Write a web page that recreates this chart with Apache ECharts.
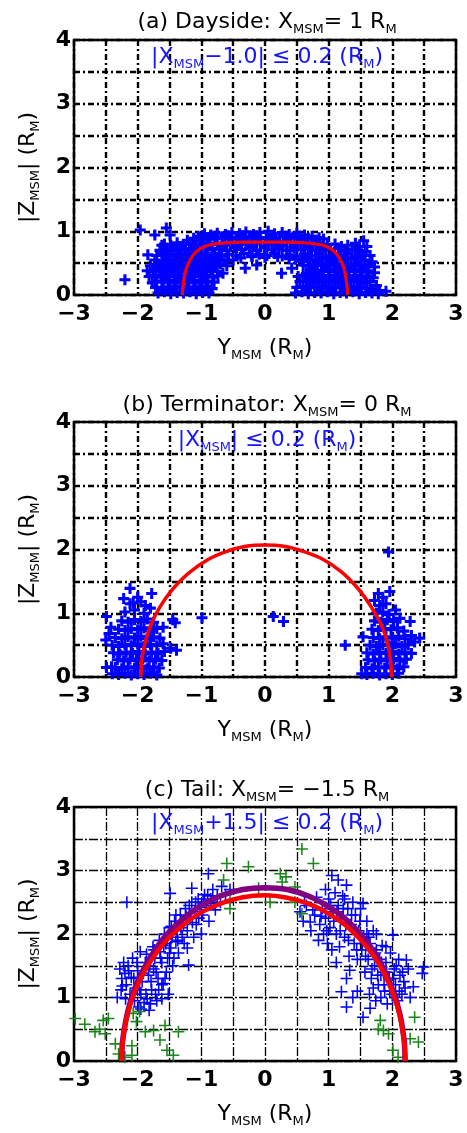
<!DOCTYPE html>
<html>
<head>
<meta charset="utf-8">
<title>MSM cross sections</title>
<script src="https://cdn.jsdelivr.net/npm/echarts@6/dist/echarts.min.js"></script>
<style>
  html, body { margin: 0; padding: 0; background: #fff; }
  #chart { width: 467px; height: 1133px; }
</style>
</head>
<body>
<div id="chart"></div>
<script>
// ---- data: [Y_MSM, |Z_MSM|] in R_M ----
var daysideBlue = [
  [-1.05,0.92],[-0.95,0.96],[-0.85,0.94],[-0.75,0.97],[-0.62,0.95],[-0.52,0.98],[-0.4,0.96],[-0.3,0.99],[-0.18,0.95],[-0.08,0.98],[0.05,1.0],[0.15,0.96],[0.27,0.98],[0.38,0.95],[0.5,0.97],[0.62,0.94],[0.74,0.92],
  [-1.22,0.86],[-1.12,0.89],[-1.0,0.87],[-0.9,0.9],[-0.78,0.88],[-0.67,0.91],[-0.56,0.88],[-0.45,0.9],[-0.33,0.87],[-0.22,0.91],[-0.1,0.88],[0.02,0.9],[0.12,0.87],[0.23,0.91],[0.35,0.88],[0.46,0.9],[0.57,0.87],[0.68,0.89],[0.8,0.86],[0.92,0.88],
  [-0.98,0.93],[-0.8,0.92],[-0.58,0.93],[-0.36,0.92],[-0.13,0.93],[0.1,0.93],[0.32,0.92],[0.55,0.92],[0.85,0.9],
  [-1.58,0.8],[-1.48,0.78],[-1.38,0.82],[-1.28,0.79],[-1.18,0.81],[-1.08,0.78],[-0.97,0.82],[-0.86,0.79],[-0.75,0.81],[-0.63,0.78],[-0.52,0.82],[-0.41,0.79],[-0.3,0.81],[-0.19,0.78],[-0.07,0.82],[0.05,0.79],[0.16,0.81],[0.28,0.78],[0.4,0.82],[0.51,0.79],[0.63,0.81],[0.74,0.78],[0.86,0.82],[0.98,0.79],[1.1,0.8],[1.3,0.78],[1.42,0.81],[1.55,0.85],[1.6,0.76],
  [-1.33,0.76],[-1.12,0.76],[-0.9,0.75],[-0.68,0.76],[-0.45,0.76],[-0.22,0.75],[0.0,0.76],[0.22,0.76],[0.45,0.75],[0.68,0.76],[0.9,0.75],[1.2,0.76],[1.45,0.75],
  [-1.65,0.7],[-1.55,0.73],[-1.45,0.7],[-1.35,0.74],[-1.25,0.71],[-1.15,0.73],[-1.05,0.7],[-0.94,0.74],[-0.83,0.71],[-0.72,0.73],[-0.6,0.7],[-0.48,0.74],[-0.37,0.71],[-0.25,0.73],[-0.13,0.7],[-0.01,0.74],[0.11,0.71],[0.22,0.73],[0.34,0.7],[0.46,0.74],[0.57,0.71],[0.69,0.73],[0.8,0.7],[0.92,0.74],[1.03,0.71],[1.15,0.73],[1.26,0.7],[1.37,0.72],[1.48,0.7],[1.58,0.68],
  [-1.84,0.63],[-1.7,0.62],[-1.6,0.65],[-1.5,0.61],[-1.4,0.64],[-1.3,0.62],[-1.2,0.65],[-1.1,0.61],[-1.0,0.64],[-0.9,0.62],[-0.79,0.65],[-0.68,0.61],[-0.57,0.64],[-0.45,0.62],[-0.33,0.65],[-0.21,0.61],[-0.09,0.64],[0.03,0.62],[0.15,0.65],[0.27,0.61],[0.39,0.63],[0.5,0.61],[0.62,0.64],[0.73,0.62],[0.85,0.65],[0.96,0.61],[1.08,0.64],[1.19,0.62],[1.3,0.65],[1.42,0.61],[1.53,0.63],[1.65,0.62],
  [-1.55,0.58],[-1.35,0.59],[-1.15,0.58],[-0.95,0.59],[-0.75,0.58],[0.65,0.59],[0.85,0.58],[1.05,0.59],[1.25,0.58],[1.45,0.59],
  [-1.73,0.55],[-1.62,0.53],[-1.52,0.56],[-1.42,0.54],[-1.32,0.57],[-1.22,0.53],[-1.12,0.56],[-1.02,0.54],[-0.92,0.57],[-0.82,0.53],[-0.71,0.56],[-0.6,0.54],[-0.5,0.55],[-0.38,0.58],[-0.2,0.6],[0.0,0.59],[0.2,0.6],[0.38,0.57],[0.48,0.56],[0.58,0.53],[0.69,0.56],[0.8,0.54],[0.91,0.57],[1.02,0.53],[1.13,0.56],[1.24,0.54],[1.35,0.57],[1.46,0.53],[1.57,0.55],[1.68,0.52],
  [-1.8,0.46],[-1.7,0.48],[-1.6,0.45],[-1.5,0.49],[-1.4,0.46],[-1.3,0.48],[-1.2,0.45],[-1.1,0.49],[-1.0,0.46],[-0.9,0.48],[-0.8,0.45],[-0.7,0.49],[-0.6,0.46],[0.6,0.47],[0.7,0.45],[0.8,0.49],[0.9,0.46],[1.0,0.48],[1.1,0.45],[1.2,0.49],[1.3,0.46],[1.4,0.48],[1.5,0.45],[1.62,0.47],[1.72,0.44],
  [-1.65,0.42],[-1.45,0.43],[-1.25,0.42],[-1.05,0.43],[-0.85,0.42],[0.75,0.42],[0.95,0.43],[1.15,0.42],[1.35,0.43],[1.55,0.42],
  [-0.31,0.42],[-0.13,0.47],[0.42,0.42],[0.26,0.34],[0.65,0.34],
  [-1.85,0.38],[-1.75,0.36],[-1.65,0.39],[-1.55,0.37],[-1.45,0.4],[-1.35,0.36],[-1.25,0.39],[-1.15,0.37],[-1.05,0.4],[-0.95,0.36],[-0.85,0.39],[-0.75,0.37],[-0.66,0.34],[0.72,0.36],[0.82,0.39],[0.92,0.37],[1.02,0.4],[1.12,0.36],[1.22,0.39],[1.32,0.37],[1.42,0.4],[1.52,0.36],[1.62,0.38],[1.72,0.35],
  [-1.82,0.29],[-1.72,0.31],[-1.62,0.28],[-1.52,0.32],[-1.42,0.29],[-1.32,0.31],[-1.22,0.28],[-1.12,0.32],[-1.02,0.29],[-0.92,0.31],[-0.82,0.28],[-0.74,0.3],[0.52,0.29],[0.6,0.31],[0.7,0.28],[0.8,0.32],[0.9,0.29],[1.0,0.31],[1.1,0.28],[1.2,0.32],[1.3,0.29],[1.4,0.31],[1.5,0.28],[1.6,0.3],[1.7,0.27],
  [-1.57,0.25],[-1.37,0.26],[-1.17,0.25],[-0.97,0.26],[0.7,0.25],[0.9,0.26],[1.1,0.25],[1.3,0.26],[1.5,0.25],
  [-1.77,0.19],[-1.7,0.22],[-1.6,0.2],[-1.5,0.23],[-1.4,0.19],[-1.3,0.22],[-1.2,0.2],[-1.1,0.23],[-1.0,0.19],[-0.9,0.22],[-0.8,0.2],[0.6,0.13],[0.55,0.21],[0.65,0.22],[0.75,0.19],[0.85,0.23],[0.95,0.2],[1.05,0.22],[1.15,0.19],[1.25,0.23],[1.35,0.2],[1.45,0.22],[1.55,0.19],[1.65,0.21],[1.75,0.15],
  [-1.72,0.12],[-1.62,0.1],[-1.52,0.13],[-1.42,0.11],[-1.32,0.14],[-1.22,0.1],[-1.12,0.13],[-1.02,0.11],[-0.92,0.14],[-0.83,0.1],[0.5,0.12],[0.7,0.13],[0.8,0.11],[0.9,0.14],[1.0,0.1],[1.1,0.13],[1.2,0.11],[1.3,0.14],[1.4,0.1],[1.5,0.12],[1.6,0.1],[1.7,0.09],[1.8,0.07],[1.9,0.06],
  [-1.47,0.08],[-1.27,0.08],[-1.07,0.08],[-0.9,0.08],[0.65,0.08],[0.85,0.08],[1.05,0.08],[1.25,0.08],[1.45,0.08],[1.65,0.07],
  [-1.68,0.03],[-1.58,0.05],[-1.48,0.02],[-1.38,0.04],[-1.28,0.03],[-1.18,0.05],[-1.08,0.02],[-0.98,0.04],[-0.88,0.03],[0.48,0.03],[0.58,0.05],[0.68,0.02],[0.78,0.04],[0.88,0.03],[0.98,0.05],[1.08,0.02],[1.18,0.04],[1.28,0.03],[1.38,0.05],[1.48,0.02],[1.58,0.04],[1.68,0.03],[1.78,0.02],
  [-2.2,0.24],[-1.96,1.02],[-1.55,1.05],[-1.73,0.94],[-1.49,0.94],[-1.62,0.78]
];
var daysideFit = [
  [-1.3,0],[-1.28,0.2],[-1.24,0.4],[-1.17,0.56],[-1.08,0.68],[-0.95,0.76],[-0.8,0.8],[-0.6,0.82],[-0.3,0.83],[0,0.83],
  [0.3,0.83],[0.6,0.82],[0.8,0.8],[0.95,0.77],[1.08,0.69],[1.17,0.58],[1.24,0.42],[1.28,0.2],[1.3,0]
];

var termBlue = [
  [-2.4,0.05],[-2.3,0.04],[-2.2,0.06],[-2.1,0.03],[-2.0,0.05],[-1.9,0.04],[-1.8,0.06],[-1.7,0.03],
  [-2.49,0.15],[-2.41,0.16],[-2.35,0.15],[-2.25,0.13],[-2.15,0.16],[-2.05,0.14],[-1.95,0.17],[-1.85,0.13],[-1.75,0.16],[-1.66,0.14],
  [-2.32,0.27],[-2.22,0.25],[-2.12,0.28],[-2.02,0.26],[-1.92,0.29],[-1.82,0.25],[-1.72,0.28],[-1.62,0.26],
  [-2.38,0.38],[-2.28,0.36],[-2.18,0.39],[-2.08,0.37],[-1.98,0.4],[-1.88,0.36],[-1.78,0.39],[-1.68,0.37],[-1.58,0.4],[-1.39,0.42],[-1.48,0.45],
  [-2.5,0.58],[-2.4,0.5],[-2.3,0.48],[-2.2,0.51],[-2.1,0.49],[-2.0,0.52],[-1.9,0.48],[-1.8,0.51],[-1.7,0.49],[-1.6,0.52],
  [-2.45,0.68],[-2.35,0.62],[-2.25,0.6],[-2.15,0.63],[-2.05,0.61],[-1.95,0.64],[-1.85,0.6],[-1.75,0.63],[-1.65,0.61],
  [-2.42,0.78],[-2.3,0.75],[-2.2,0.73],[-2.1,0.76],[-2.0,0.74],[-1.9,0.77],[-1.8,0.73],[-1.7,0.76],[-1.6,0.78],
  [-2.49,0.95],[-2.25,0.88],[-2.15,0.86],[-2.05,0.9],[-1.95,0.87],[-1.85,0.91],[-1.75,0.86],[-1.45,0.9],[-1.41,0.85],
  [-2.2,1.02],[-2.05,1.05],[-1.9,1.0],[-1.8,1.08],[-2.12,1.15],[-1.95,1.18],[-2.07,1.16],[-2.22,1.23],[-1.78,1.31],[-2.12,1.39],[-1.88,1.12],[-2.0,1.25],
  [-0.99,0.93],[0.13,0.95],[0.29,0.87],[1.26,0.5],
  [1.52,0.05],[1.6,0.04],[1.7,0.06],[1.8,0.03],[1.9,0.05],[2.0,0.04],[2.1,0.06],
  [1.58,0.15],[1.68,0.13],[1.78,0.16],[1.88,0.14],[1.98,0.17],[2.08,0.13],[2.18,0.16],
  [1.62,0.27],[1.72,0.25],[1.82,0.28],[1.92,0.26],[2.02,0.29],[2.12,0.25],[2.22,0.28],
  [1.6,0.38],[1.7,0.36],[1.8,0.39],[1.9,0.37],[2.0,0.4],[2.1,0.36],[2.2,0.39],[2.3,0.37],
  [1.65,0.5],[1.75,0.48],[1.85,0.51],[1.95,0.49],[2.05,0.52],[2.15,0.48],[2.25,0.51],[2.35,0.55],
  [1.54,0.63],[1.7,0.62],[1.8,0.6],[1.9,0.63],[2.0,0.61],[2.1,0.64],[2.2,0.6],[2.3,0.65],[2.43,0.61],
  [1.68,0.75],[1.78,0.73],[1.88,0.76],[1.98,0.74],[2.08,0.77],[2.18,0.72],
  [1.72,0.88],[1.82,0.86],[1.92,0.9],[2.02,0.87],[2.12,0.92],[2.28,0.87],
  [1.75,1.0],[1.85,1.02],[1.95,0.98],[2.05,1.05],[1.8,1.12],[1.9,1.15],[1.72,1.2],[1.85,1.25],[1.78,1.31],[1.96,1.34],[1.94,1.96]
];
var termFit = [
  [-1.95,0],[-1.93,0.3],[-1.88,0.55],[-1.8,0.8],[-1.65,1.1],[-1.45,1.38],[-1.2,1.63],[-0.9,1.84],[-0.6,1.97],[-0.3,2.05],[0,2.07],
  [0.3,2.05],[0.6,1.97],[0.9,1.85],[1.2,1.65],[1.45,1.4],[1.65,1.13],[1.8,0.87],[1.9,0.62],[1.96,0.35],[1.99,0]
];

var tailBlue = [
  [-2.32,1.0],[-2.28,1.45],[-2.26,1.12],[-2.25,1.3],[-2.22,1.55],[-2.2,1.38],[-2.18,1.2],[-2.15,1.5],[-2.12,1.05],[-2.1,1.32],[-2.08,1.62],
  [-2.05,0.95],[-2.03,1.15],[-2.0,1.42],[-1.98,0.85],[-1.96,1.72],[-1.95,1.05],[-1.95,0.82],[-1.93,1.25],[-1.9,0.92],[-1.88,1.55],[-1.86,1.68],
  [-1.85,0.98],[-1.83,1.35],[-1.82,0.8],[-1.8,0.9],[-1.78,1.12],[-1.76,1.8],[-1.75,1.45],[-1.73,1.62],[-1.72,1.05],[-1.7,0.95],[-1.68,1.3],
  [-1.66,1.9],[-1.65,1.72],[-1.62,1.55],[-1.62,0.98],[-1.6,1.22],[-1.58,2.0],[-1.56,1.85],[-1.55,1.4],[-1.53,1.62],[-1.52,1.05],[-1.5,2.1],
  [-1.49,2.64],[-1.48,1.78],[-1.46,1.95],[-1.45,1.5],[-1.42,2.2],[-1.4,1.88],[-1.38,2.05],[-1.36,1.7],[-1.33,2.3],[-1.3,1.95],[-1.28,2.15],
  [-1.25,2.4],[-1.22,2.05],[-1.2,1.51],[-1.18,2.25],[-1.15,2.5],[-1.15,2.72],[-1.12,1.95],[-1.1,2.35],[-1.08,2.15],[-1.05,2.55],[-1.02,2.42],
  [-1.0,2.0],[-0.98,2.3],[-0.95,2.62],[-0.92,2.45],[-0.89,2.95],[-0.88,2.2],[-0.85,2.55],[-0.82,2.7],[-0.78,2.38],[-0.75,2.6],[-0.7,2.5],
  [-0.68,2.75],[-0.62,2.62],[-0.55,2.7],[-2.17,2.5],
  [-2.24,1.18],[-2.19,0.98],[-2.14,1.42],[-2.06,1.3],[-2.01,1.55],[-1.97,1.12],[-1.91,1.38],[-1.87,1.05],[-1.81,1.5],[-1.79,1.25],[-1.74,1.75],
  [-1.71,1.4],[-1.67,1.12],[-1.64,1.62],[-1.59,1.82],[-1.57,1.3],[-1.54,1.92],[-1.5,1.7],[-1.47,2.12],[-1.43,1.62],[-1.4,2.3],[-1.37,1.9],
  [-1.32,2.1],[-1.27,1.85],[-1.24,2.28],[-1.19,2.45],[-1.14,2.18],[-1.09,2.5],[-1.04,2.25],[-0.97,2.5],[-0.9,2.6],[-0.8,2.48],[-1.22,1.78],[-1.62,1.2],
  [0.55,2.35],[0.6,2.2],[0.65,2.45],[0.71,2.19],[0.72,2.05],[0.78,2.3],[0.81,2.58],[0.84,1.9],[0.86,2.15],[0.9,2.4],[0.92,2.0],
  [0.95,2.25],[0.95,2.7],[0.98,1.85],[1.0,2.55],[1.02,2.1],[1.05,2.92],[1.05,1.75],[1.07,2.35],[1.1,2.65],[1.12,2.0],[1.12,1.55],
  [1.15,2.45],[1.15,2.85],[1.17,1.8],[1.2,2.25],[1.2,1.09],[1.22,2.6],[1.25,1.95],[1.25,2.55],[1.28,2.77],[1.28,1.3],[1.28,0.85],
  [1.3,2.4],[1.32,1.65],[1.33,1.43],[1.35,2.15],[1.38,2.5],[1.38,1.0],[1.4,1.85],[1.42,2.3],[1.45,1.6],[1.45,1.1],[1.47,2.05],
  [1.5,2.4],[1.52,1.75],[1.54,2.48],[1.54,0.69],[1.55,1.95],[1.57,1.4],[1.6,2.2],[1.6,2.0],[1.62,1.6],[1.64,1.05],[1.65,1.85],
  [1.65,0.83],[1.67,1.3],[1.7,2.05],[1.72,1.5],[1.74,0.95],[1.75,1.75],[1.75,2.0],[1.78,1.2],[1.8,1.6],[1.82,1.0],[1.82,1.35],
  [1.84,1.82],[1.86,1.4],[1.88,1.1],[1.9,1.55],[1.9,1.8],[1.92,0.9],[1.95,1.3],[1.97,1.7],[2.0,1.05],[2.01,1.98],[2.03,1.45],
  [2.05,1.2],[2.08,0.95],[2.1,1.6],[2.12,1.35],[2.15,1.05],[2.18,1.25],[2.22,1.59],[2.25,1.45],[2.28,1.0],[2.33,1.17],[2.47,1.38],[2.49,1.48],
  [0.62,2.5],[0.75,2.38],[0.88,2.28],[0.97,2.05],[1.03,2.45],[1.08,2.2],[1.13,2.35],[1.18,2.05],[1.23,2.4],[1.27,2.15],[1.31,1.9],
  [1.36,2.3],[1.41,2.05],[1.44,1.75],[1.49,2.2],[1.53,1.85],[1.58,1.65],[1.63,1.95],[1.68,1.45],[1.73,1.7],[1.77,1.35],[1.83,1.55],
  [1.87,1.2],[1.91,1.4],[1.96,1.1],[2.02,1.3],[2.06,1.5],[2.11,1.1],[2.16,1.4],[2.2,1.15],[2.06,1.0],[1.7,1.15]
];
var tailGreen = [
  [0.58,3.34],[0.76,3.11],[-0.6,3.11],[-0.26,3.06],[-0.65,2.85],[0.24,2.95],[0.33,2.9],[0.27,2.82],[0.47,2.74],[-0.55,2.53],[-0.55,2.4],
  [0.08,2.5],[0.47,2.5],[0.58,2.32],[-0.1,2.72],
  [-2.98,0.67],[-2.83,0.58],[-2.67,0.46],[-2.51,0.43],[-2.54,0.64],[-2.46,0.67],[-2.6,0.5],[-2.35,0.27],[-2.3,0.11],[-2.09,0.24],
  [-2.09,0.09],[-2.07,0.75],[-2.02,0.62],[-1.97,0.78],[-1.88,0.46],[-1.75,0.48],[-1.65,0.33],[-1.57,0.56],[-1.54,0.17],[-1.44,0.09],
  [-1.36,0.46],[-2.2,0.06],
  [1.81,0.64],[1.86,0.48],[1.94,0.43],[1.78,0.5],[2.01,0.17],[2.09,0.06],[2.35,0.69],[2.41,0.3],[2.28,0.35]
];
var tailFitRed = [
  [-2.25,0],[-2.245,0.2],[-2.22,0.42],[-2.15,0.77],[-2.05,1.08],[-1.9,1.4],[-1.7,1.71],[-1.5,1.95],[-1.25,2.17],[-1.0,2.34],[-0.7,2.48],[-0.35,2.58],[0,2.61],
  [0.35,2.57],[0.7,2.47],[1.0,2.32],[1.25,2.15],[1.5,1.91],[1.7,1.66],[1.88,1.36],[2.02,1.03],[2.12,0.7],[2.18,0.35],[2.195,0.18],[2.2,0]
];
var tailFitPurple = [
  [-2.25,0],[-2.245,0.21],[-2.22,0.44],[-2.15,0.8],[-2.05,1.13],[-1.9,1.46],[-1.7,1.79],[-1.5,2.04],[-1.25,2.27],[-1.0,2.45],[-0.7,2.6],[-0.35,2.7],[0,2.73],
  [0.35,2.7],[0.7,2.59],[1.0,2.43],[1.25,2.25],[1.5,2.0],[1.7,1.74],[1.88,1.42],[2.02,1.08],[2.12,0.73],[2.18,0.37],[2.195,0.19],[2.2,0]
];

var panelTitles = ['(a) Dayside: X{s|MSM}= 1 R{s|M}', '(b) Terminator: X{s|MSM}= 0 R{s|M}', '(c) Tail: X{s|MSM}= \u22121.5 R{s|M}'];
var panelNotes = ['|X{s|MSM}\u22121.0| \u2264 0.2 (R{s|M})', '|X{s|MSM}| \u2264 0.2 (R{s|M})', '|X{s|MSM}+1.5| \u2264 0.2 (R{s|M})'];

var FONT = 'DejaVu Sans';
var BLUE = '#1414ff';
var plusThick = 'path://M3.6,0H6.4V3.6H10V6.4H6.4V10H3.6V6.4H0V3.6H3.6Z';
var plusThin = 'path://M4.35,0H5.65V4.35H10V5.65H5.65V10H4.35V5.65H0V4.35H4.35Z';

var grids = [
  { left: 74, top: 40, width: 382, height: 255 },
  { left: 74, top: 422, width: 382, height: 255 },
  { left: 74, top: 807, width: 382, height: 254 }
];
var titleY = [22, 405, 790];
var noteY = [57, 440, 823];
var gridLw = [2.4, 2.4, 1.3];
var gridDash = [[6, 3, 2, 3], [6, 3, 2, 3], [9, 2, 2, 2]];

function minus(v) {
  return v < 0 ? '\u2212' + (-v) : '' + v;
}
function subRich(size) {
  return { s: { fontSize: size, fontFamily: FONT, lineHeight: size, verticalAlign: 'bottom' } };
}

var xAxes = [], yAxes = [], graphics = [];
for (var i = 0; i < 3; i++) {
  grids[i].show = true;
  grids[i].borderColor = '#000';
  grids[i].borderWidth = 2.5;
  var dash = { color: '#000', width: gridLw[i], type: gridDash[i] };
  xAxes.push({
    gridIndex: i, type: 'value', min: -3, max: 3, interval: 1,
    axisLine: { show: false }, axisTick: { show: false },
    axisLabel: { color: '#000', fontFamily: FONT, fontWeight: 'bold', fontSize: 22, margin: 8, formatter: minus },
    splitLine: { show: true, lineStyle: dash },
    minorTick: { show: false, splitNumber: 2 },
    minorSplitLine: { show: true, lineStyle: dash },
    name: 'Y{s|MSM} (R{s|M})', nameLocation: 'middle', nameGap: 39,
    nameTextStyle: { color: '#000', fontFamily: FONT, fontSize: 22, lineHeight: 28, rich: subRich(13) }
  });
  yAxes.push({
    gridIndex: i, type: 'value', min: 0, max: 4, interval: 1,
    axisLine: { show: false }, axisTick: { show: false },
    axisLabel: { color: '#000', fontFamily: FONT, fontWeight: 'bold', fontSize: 22, margin: 3 },
    splitLine: { show: true, lineStyle: dash },
    minorTick: { show: false, splitNumber: 2 },
    minorSplitLine: { show: true, lineStyle: dash },
    name: '|Z{s|MSM}| (R{s|M})', nameLocation: 'middle', nameGap: 32,
    nameTextStyle: { color: '#000', fontFamily: FONT, fontSize: 22, lineHeight: 28, rich: subRich(13) }
  });
  graphics.push({
    type: 'text', x: 267, y: titleY[i], z: 10,
    style: { text: panelTitles[i], fill: '#000', fontFamily: FONT, fontSize: 22, lineHeight: 28,
      align: 'center', verticalAlign: 'middle', rich: subRich(13) }
  });
  graphics.push({
    type: 'text', x: 267, y: noteY[i], z: 10,
    style: { text: panelNotes[i], fill: BLUE, fontFamily: FONT, fontSize: 22, lineHeight: 28,
      align: 'center', verticalAlign: 'middle', rich: { s: { fontSize: 13, fontFamily: FONT, lineHeight: 13, verticalAlign: 'bottom', color: BLUE } } }
  });
}

function scatter(idx, data, color, sym, size) {
  return { type: 'scatter', xAxisIndex: idx, yAxisIndex: idx, data: data, symbol: sym, symbolSize: size,
    itemStyle: { color: color, opacity: 1 }, silent: true, animation: false };
}
function curve(idx, data, color, width) {
  return { type: 'line', xAxisIndex: idx, yAxisIndex: idx, data: data, smooth: 0.4, showSymbol: false,
    lineStyle: { color: color, width: width }, silent: true, animation: false, z: 5 };
}

var chart = echarts.init(document.getElementById('chart'));
chart.setOption({
  backgroundColor: '#fff',
  animation: false,
  grid: grids,
  xAxis: xAxes,
  yAxis: yAxes,
  graphic: graphics,
  series: [
    scatter(0, daysideBlue, '#0000ff', plusThick, 11),
    curve(0, daysideFit, '#ff0000', 3.2),
    scatter(1, termBlue, '#0000ff', plusThick, 11),
    curve(1, termFit, '#ff0000', 3.5),
    scatter(2, tailBlue, '#0000ff', plusThin, 12),
    scatter(2, tailGreen, '#1b861b', plusThin, 12),
    curve(2, tailFitPurple, '#800080', 5.5),
    curve(2, tailFitRed, '#ff0000', 4.5)
  ]
});
</script>
</body>
</html>
